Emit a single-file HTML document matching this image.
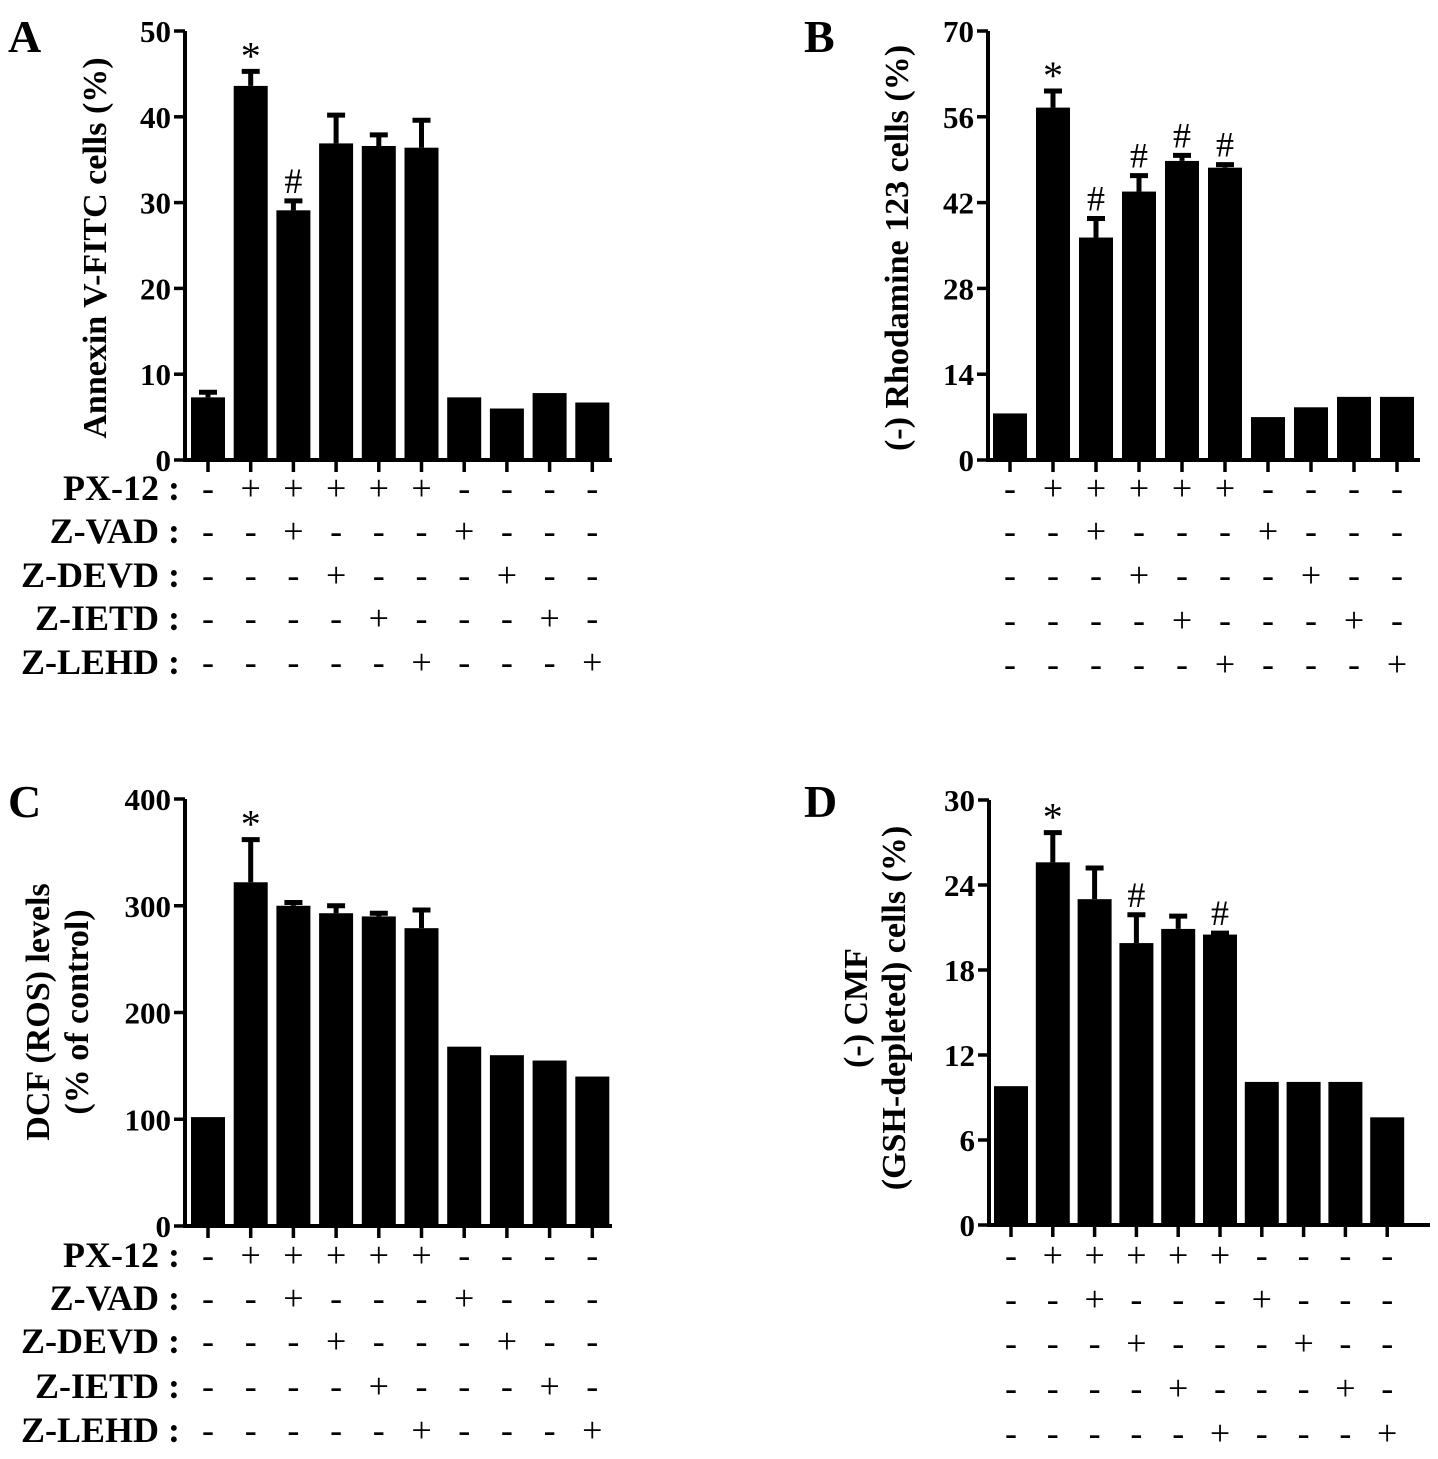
<!DOCTYPE html>
<html><head><meta charset="utf-8"><style>
body{margin:0;background:#fff}
svg{display:block;font-family:"Liberation Serif",serif}
</style></head><body>
<svg id="fig" width="1438" height="1459" viewBox="0 0 1438 1459" xmlns="http://www.w3.org/2000/svg"></svg>
<script>
const categories = ["ctrl","PX-12","PX-12+Z-VAD","PX-12+Z-DEVD","PX-12+Z-IETD","PX-12+Z-LEHD","Z-VAD","Z-DEVD","Z-IETD","Z-LEHD"];
const rowNames = ["PX-12","Z-VAD","Z-DEVD","Z-IETD","Z-LEHD"];
const rowSigns = [
 ["-","+","+","+","+","+","-","-","-","-"],
 ["-","-","+","-","-","-","+","-","-","-"],
 ["-","-","-","+","-","-","-","+","-","-"],
 ["-","-","-","-","+","-","-","-","+","-"],
 ["-","-","-","-","-","+","-","-","-","+"]];
const valuesA = [7.3,43.6,29.1,36.9,36.6,36.4,7.3,6.0,7.8,6.7];
const errorsA = [0.6,1.7,1.1,3.3,1.3,3.2,0,0,0,0];
const marksA = ["","*","#","","","","","","",""];
const ticksA = [0,10,20,30,40,50];
const valuesB = [7.6,57.5,36.3,43.8,48.8,47.7,7.0,8.6,10.3,10.3];
const errorsB = [0,2.7,3.1,2.6,0.9,0.5,0,0,0,0];
const marksB = ["","*","#","#","#","#","","","",""];
const ticksB = [0,14,28,42,56,70];
const valuesC = [102,322,300,293,290,279,168,160,155,140];
const errorsC = [0,40,3,7,3,17,0,0,0,0];
const marksC = ["","*","","","","","","","",""];
const ticksC = [0,100,200,300,400];
const valuesD = [9.8,25.6,23.0,19.9,20.9,20.5,10.1,10.1,10.1,7.6];
const errorsD = [0,2.1,2.2,2.0,0.9,0.1,0,0,0,0];
const marksD = ["","*","","#","","#","","","",""];
const ticksD = [0,6,12,18,24,30];

const NS="http://www.w3.org/2000/svg";
const svg=document.getElementById('fig');
function el(tag,attrs,parent,text){const e=document.createElementNS(NS,tag);for(const k in attrs)e.setAttribute(k,attrs[k]);if(text!==undefined)e.textContent=text;(parent||svg).appendChild(e);return e;}

function panel(o){
  const g=el('g',{});
  
  
  const max=o.ticks[o.ticks.length-1];
  const y=v=>o.y0-(v/max)*(o.y0-o.yTop);
  const x=i=>o.x1+i*o.step;
  const t=el('text',{x:o.lx,y:o.ly,'font-size':46,'font-weight':'bold'},g,o.letter);
  
  
  o.values.forEach((v,i)=>{
    const b=el('rect',{x:x(i)-o.bw/2,y:y(v),width:o.bw,height:o.y0-y(v),fill:'#000'},g);
    
    
    const e=o.errors[i];
    if(e>0){
      const eb=el('path',{d:`M${x(i)} ${y(v)} V${y(v+e)} M${x(i)-9} ${y(v+e)} H${x(i)+9}`,stroke:'#000','stroke-width':5,fill:'none'},g);
      
      
    }
    const m=o.marks[i];
    if(m){
      const mt=el('text',{x:x(i),y:y(v+e)-(m==='*'?2:8),'text-anchor':'middle','font-size':m==='*'?40:36,'font-weight':'normal'},g,m);
      
      
    }
    const tk=el('line',{x1:x(i),x2:x(i),y1:o.y0,y2:o.y0+12,stroke:'#000','stroke-width':3.5},g);
    
    
  });
  const ax=el('path',{d:`M${o.ax} ${o.yTop} V${o.y0} H${o.xEnd}`,stroke:'#000','stroke-width':4,fill:'none'},g);
  
  
  o.ticks.forEach(tv=>{
    el('line',{x1:o.ax-11,x2:o.ax,y1:y(tv),y2:y(tv),stroke:'#000','stroke-width':3.5},g);
    const tl=el('text',{x:o.ax-14,y:y(tv)+11,'text-anchor':'end','font-size':31,'font-weight':'bold'},g,tv);
    
    
  });
  o.title.forEach((line,k)=>{
    const tx=o.tx[k];
    const yt=el('text',{x:tx,y:o.ty,'text-anchor':'middle','font-size':34,'font-weight':'bold',transform:`rotate(-90 ${tx} ${o.ty})`},g,line);
    
    
  });
  rowSigns.forEach((row,r)=>{
    const ry=o.rows[r];
    if(o.showNames){
      const rn=el('text',{x:o.nameX,y:ry+12,'text-anchor':'end','font-size':36,'font-weight':'bold'},g,rowNames[r]+' :');
      
      
    }
    row.forEach((s,i)=>{
      const st=el('text',{x:x(i),y:ry+12,'text-anchor':'middle','font-size':36},g,s);
      
      
    });
  });
}

panel({letter:'A',lx:8,ly:52,values:valuesA,errors:errorsA,marks:marksA,ticks:ticksA,
  ax:185,yTop:31,y0:460,x1:208,step:42.7,bw:34,xEnd:612,
  title:['Annexin V-FITC cells (%)'],tx:[106],ty:248,
  rows:[488,531,575,618,662],showNames:true,nameX:180});
panel({letter:'B',lx:804,ly:52,values:valuesB,errors:errorsB,marks:marksB,ticks:ticksB,
  ax:988,yTop:31,y0:460,x1:1010,step:43,bw:34,xEnd:1420,
  title:['(-) Rhodamine 123 cells (%)'],tx:[908],ty:248,
  rows:[488,531,575,620,664],showNames:false});
panel({letter:'C',lx:8,ly:817,values:valuesC,errors:errorsC,marks:marksC,ticks:ticksC,
  ax:185,yTop:799,y0:1226,x1:208,step:42.7,bw:34,xEnd:612,
  title:['DCF (ROS) levels','(% of control)'],tx:[49,88],ty:1012,
  rows:[1255,1298,1341,1386,1430],showNames:true,nameX:180});
panel({letter:'D',lx:804,ly:817,values:valuesD,errors:errorsD,marks:marksD,ticks:ticksD,
  ax:989,yTop:800,y0:1225,x1:1011,step:41.8,bw:34,xEnd:1430,
  title:['(-) CMF','(GSH-depleted) cells (%)'],tx:[867,905],ty:1008,
  rows:[1255,1299,1343,1388,1433],showNames:false});
</script>
</body></html>
